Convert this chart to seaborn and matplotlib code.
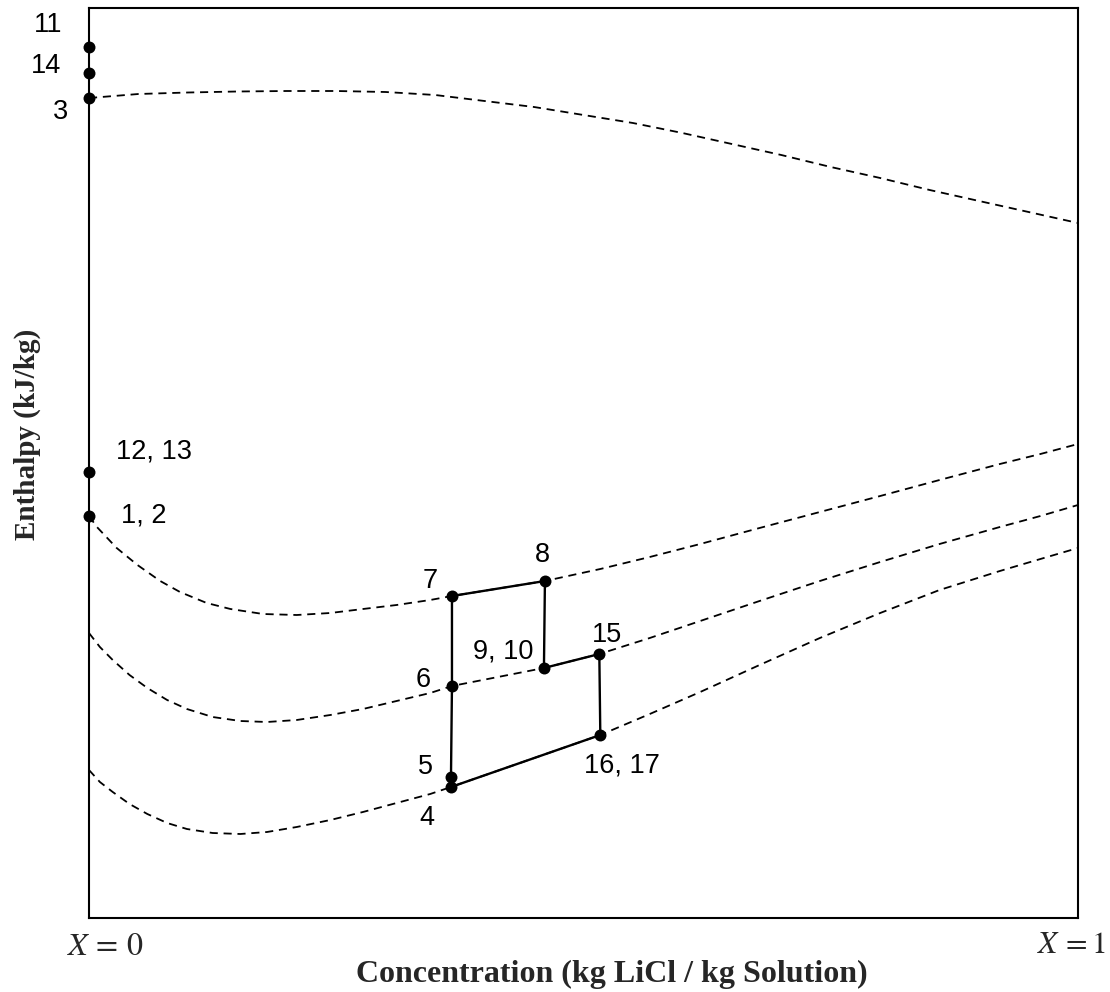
import matplotlib
matplotlib.use("Agg")
import matplotlib.pyplot as plt
from matplotlib import font_manager
import seaborn as sns
import pandas as pd

# Concentration axis runs from pure water (X = 0) to pure salt (X = 1);
# enthalpy is drawn on a relative scale without ticks.

# Vapour line at the top of the diagram
vap_x = [0.0, 0.05, 0.10, 0.15, 0.20, 0.25, 0.30, 0.35, 0.40, 0.45, 0.50,
         0.55, 0.60, 0.65, 0.70, 0.75, 0.80, 0.85, 0.90, 0.95, 1.0]
vap_h = [820, 824, 825.5, 826.5, 827, 827, 826, 823, 817, 811, 803,
         795, 785, 774, 763, 751, 740, 728, 717, 706, 695]

# Upper solution isotherm (through 1,2 / 7 / 8)
iso1_x = [0.000, 0.008, 0.028, 0.049, 0.072, 0.092, 0.119, 0.143, 0.176, 0.210,
          0.244, 0.277, 0.311, 0.345, 0.367, 0.461, 0.517, 0.567, 0.618, 0.678,
          0.739, 0.800, 0.860, 0.921, 0.962, 1.000]
iso1_h = [402, 391, 370, 353, 337, 326, 315, 309, 304, 303,
          305, 309, 313, 318, 322, 337, 349, 361, 374, 390,
          406, 422, 438, 454, 464, 474]

# Middle solution isotherm (through 6 / 9,10 / 15)
iso2_x = [0.000, 0.011, 0.024, 0.041, 0.059, 0.079, 0.099, 0.125, 0.153, 0.180,
          0.210, 0.244, 0.277, 0.311, 0.345, 0.367, 0.460, 0.516, 0.567, 0.618,
          0.678, 0.739, 0.800, 0.860, 0.921, 0.962, 1.000]
iso2_h = [285, 271, 258, 243, 230, 218, 209, 201, 197, 196,
          198, 203, 209, 217, 225, 232, 250, 264, 280, 297,
          317, 337, 356, 374, 391, 402, 413]

# Lower solution isotherm (through 4 / 16,17)
iso3_x = [0.000, 0.011, 0.024, 0.041, 0.059, 0.079, 0.099, 0.125, 0.153, 0.180,
          0.210, 0.244, 0.277, 0.311, 0.345, 0.366, 0.517, 0.567, 0.618, 0.678,
          0.739, 0.800, 0.860, 0.921, 0.962, 1.000]
iso3_h = [148, 136, 126, 114, 104, 95, 89, 85, 84, 86,
          91, 98, 106, 115, 124, 131, 183, 204, 226, 253,
          280, 305, 328, 347, 359, 370]

# State points of the cycle
state_labels = ["11", "14", "3", "12, 13", "1, 2", "7", "8", "9, 10",
                "6", "15", "16, 17", "5", "4"]
state_x = [0.0, 0.0, 0.0, 0.0, 0.0, 0.367, 0.461, 0.460,
           0.367, 0.516, 0.517, 0.366, 0.366]
state_h = [871, 845, 820, 446, 402, 322, 337, 250,
           232, 264, 183, 141, 131]

# Order in which the solution states are joined by process lines
cycle_path = ["7", "8", "9, 10", "15", "16, 17", "4", "5", "6", "7"]

# Label placement relative to each marker (pixels: right, up)
label_offsets = {
    "11": (-41, 22), "14": (-43, 7), "3": (-28, -14),
    "12, 13": (65, 20), "1, 2": (55, 1),
    "7": (-22, 15), "8": (-3, 26), "9, 10": (-41, 16), "6": (-29, 6),
    "15": (8, 19), "16, 17": (22, -30), "5": (-26, 10), "4": (-24, -31),
}

sns.set_theme(style="white")
plt.rcParams["font.family"] = ["Liberation Sans", "DejaVu Sans"]
plt.rcParams["mathtext.fontset"] = "stix"

installed = {f.name for f in font_manager.fontManager.ttflist}
if "Liberation Sans Narrow" in installed:
    label_font = dict(family=["Liberation Sans Narrow", "DejaVu Sans"], size=22)
else:
    label_font = dict(family=["Liberation Sans", "DejaVu Sans"], size=19.5)

fig = plt.figure(figsize=(11.10, 9.92), dpi=100)
ax = fig.add_axes([89 / 1110, 74 / 992, 989 / 1110, 910 / 992])

dash = (0, (4.5, 3.2))
for xs, hs in [(vap_x, vap_h), (iso1_x, iso1_h), (iso2_x, iso2_h), (iso3_x, iso3_h)]:
    sns.lineplot(x=xs, y=hs, ax=ax, sort=False, estimator=None,
                 color="black", linewidth=1.3, linestyle=dash)

states = pd.DataFrame({"label": state_labels, "x": state_x, "h": state_h}).set_index("label")
path = states.loc[cycle_path].reset_index()
sns.lineplot(data=path, x="x", y="h", ax=ax, sort=False, estimator=None,
             color="black", linewidth=1.7)

sns.scatterplot(data=states.reset_index(), x="x", y="h", ax=ax, s=74,
                color="black", edgecolor="black", linewidth=0, zorder=5,
                clip_on=False)

for lab, row in states.iterrows():
    dx, dy = label_offsets[lab]
    ax.annotate(lab, (row["x"], row["h"]), xytext=(dx, dy),
                textcoords="offset pixels", ha="center", va="center",
                color="black", **label_font)

ax.set_xlim(0, 1)
ax.set_ylim(0, 910)
ax.set_xticks([])
ax.set_yticks([])
ax.set_xlabel("")
ax.set_ylabel("")
for sp in ax.spines.values():
    sp.set_visible(True)
    sp.set_color("black")
    sp.set_linewidth(1.5)

serif = ["Liberation Serif", "DejaVu Serif"]
fig.text(612 / 1110, 1 - 974 / 992, "Concentration (kg LiCl / kg Solution)",
         ha="center", va="center", family=serif, weight="bold", size=23)
fig.text(27 / 1110, 1 - 434 / 992, "Enthalpy (kJ/kg)", rotation=90,
         ha="center", va="center", family=serif, weight="bold", size=21)
fig.text(105 / 1110, 1 - 947 / 992, r"$X\,=\,0$", ha="center", va="center", fontsize=23)
fig.text(1071 / 1110, 1 - 945 / 992, r"$X\,=1$", ha="center", va="center", fontsize=22.5)

fig.savefig("out.png", dpi=100)
